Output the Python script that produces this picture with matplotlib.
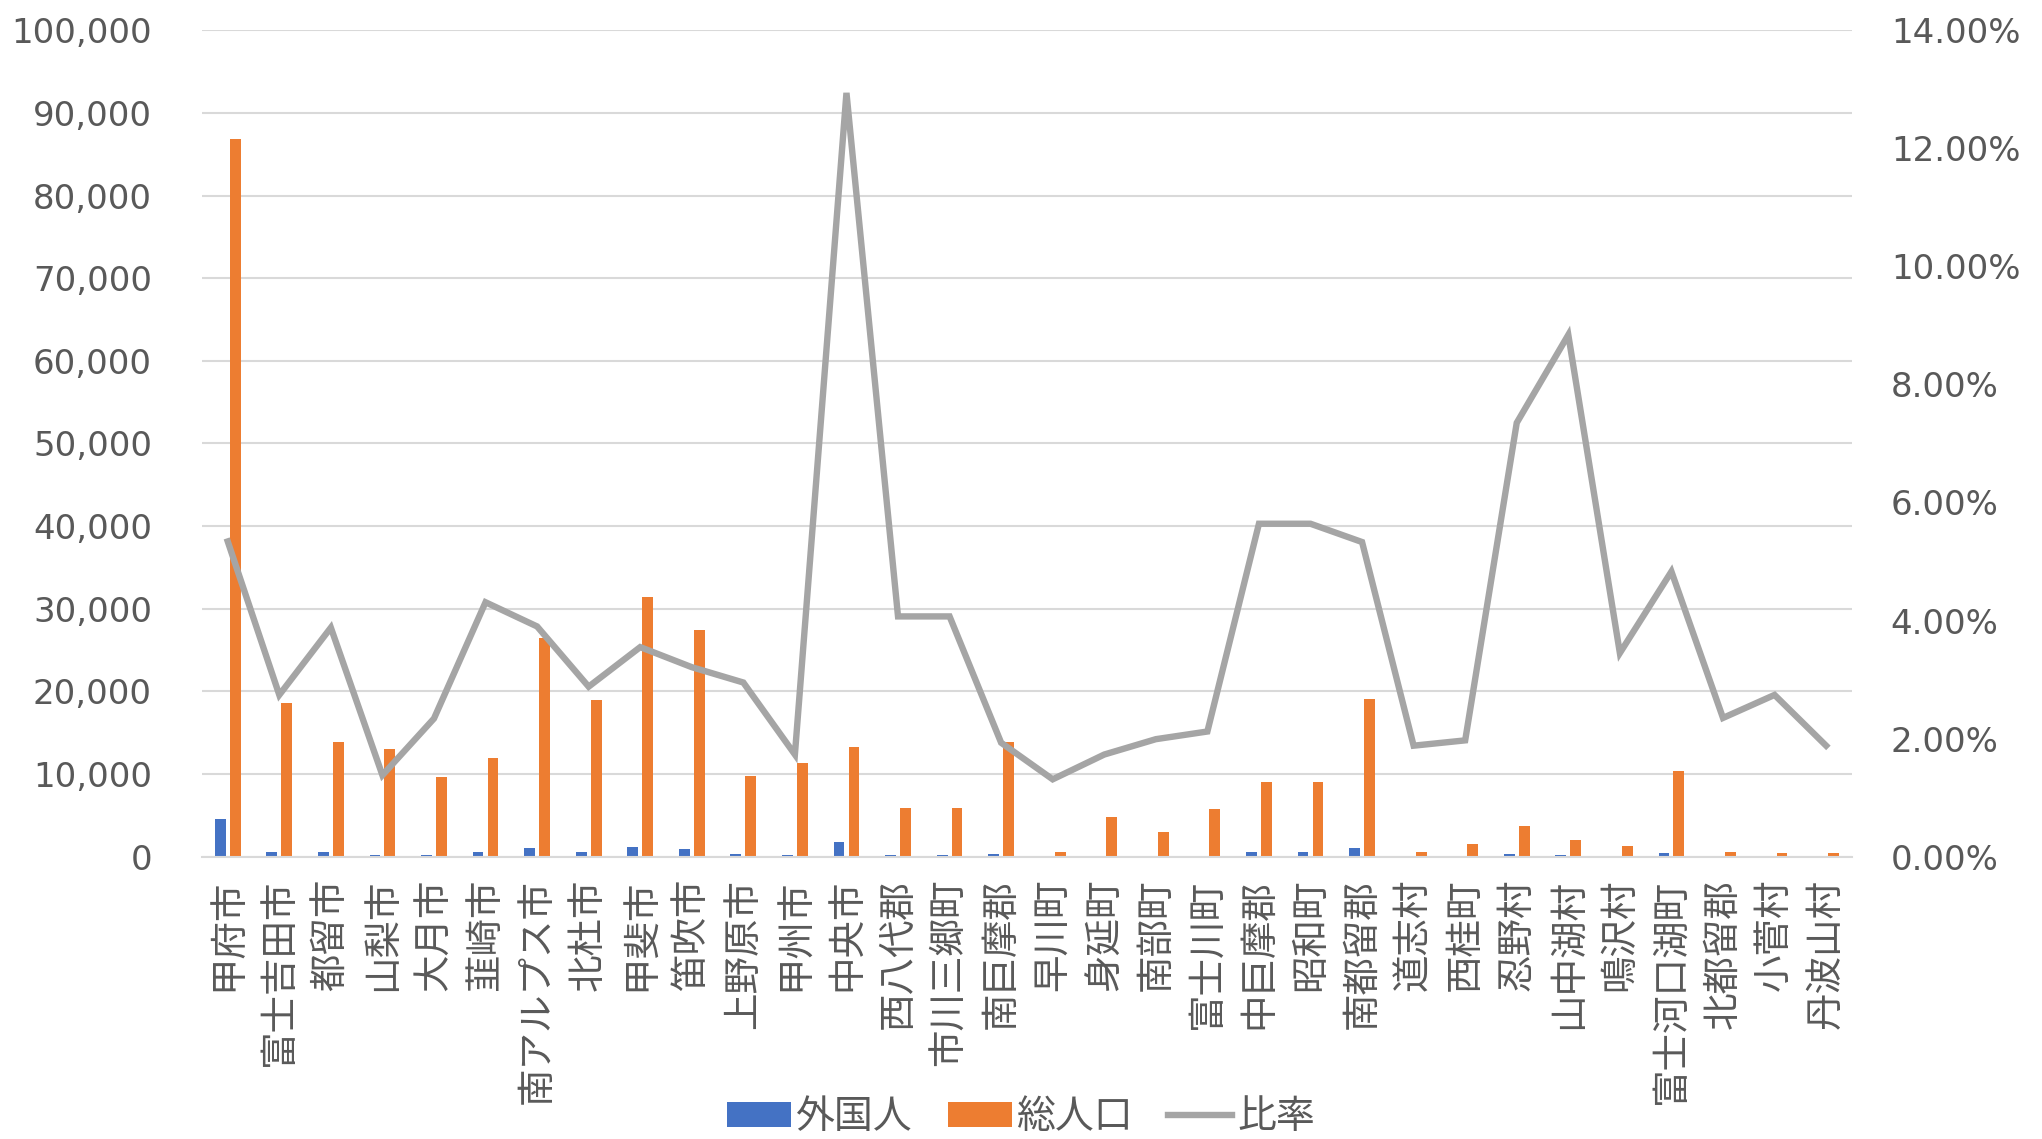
import numpy as np
import matplotlib
matplotlib.use("Agg")
import matplotlib.pyplot as plt
from matplotlib.ticker import FuncFormatter, MultipleLocator

plt.rcParams['font.family'] = ['Noto Sans CJK JP', 'DejaVu Sans']

categories = ["甲府市", "富士吉田市", "都留市", "山梨市", "大月市", "韮崎市", "南アルプス市",
              "北杜市", "甲斐市", "笛吹市", "上野原市", "甲州市", "中央市", "西八代郡",
              "市川三郷町", "南巨摩郡", "早川町", "身延町", "南部町", "富士川町", "中巨摩郡",
              "昭和町", "南都留郡", "道志村", "西桂町", "忍野村", "山中湖村", "鳴沢村",
              "富士河口湖町", "北都留郡", "小菅村", "丹波山村"]

foreigners = [4500, 550, 550, 180, 230, 550, 1050, 550, 1120, 880, 290, 200, 1750,
              240, 240, 270, 8, 85, 60, 120, 510, 510, 1020, 11, 30, 270, 175, 45,
              500, 14, 11, 8]

total_pop = [86900, 18650, 13890, 13070, 9670, 11910, 26480, 18990, 31380, 27370,
             9730, 11370, 13270, 5920, 5920, 13890, 600, 4770, 2930, 5720, 8990,
             8990, 19060, 600, 1500, 3680, 1970, 1290, 10350, 600, 400, 400]

ratio_pct = [5.34, 2.74, 3.88, 1.38, 2.34, 4.31, 3.90, 2.88, 3.55, 3.21, 2.95, 1.73,
             12.94, 4.07, 4.07, 1.93, 1.31, 1.73, 1.99, 2.12, 5.64, 5.64, 5.33, 1.88,
             1.97, 7.35, 8.84, 3.45, 4.83, 2.35, 2.74, 1.88]

series_names = ["外国人", "総人口", "比率"]
colors = ["#4472C4", "#ED7D31", "#A5A5A5"]
text_color = "#595959"
grid_color = "#D9D9D9"
num_font = ['DejaVu Sans']
fs_num = 24.5
fs_cat = 27
fs_leg = 28

fig = plt.figure(figsize=(20.42, 11.39), dpi=100)
ax = fig.add_axes([0.0989, 0.2479, 0.8080, 0.7255])
x = np.arange(len(categories))
w = 0.21
b1 = ax.bar(x - 0.145, foreigners, width=w, color=colors[0], label=series_names[0], zorder=2)
b2 = ax.bar(x + 0.145, total_pop, width=w, color=colors[1], label=series_names[1], zorder=2)

ax.set_xlim(-0.5, len(categories) - 0.5)
ax.set_ylim(0, 100000)
ax.yaxis.set_major_locator(MultipleLocator(10000))
ax.yaxis.set_major_formatter(FuncFormatter(lambda v, p: f"{int(v):,}"))
ax.grid(axis='y', color=grid_color, linewidth=1.5, zorder=0)
ax.set_axisbelow(True)
for s in ['top', 'left', 'right']:
    ax.spines[s].set_visible(False)
ax.spines['bottom'].set_color(grid_color)
ax.spines['bottom'].set_linewidth(1.5)
ax.set_xticks(x)
ax.set_xticklabels(categories, rotation=90, fontsize=fs_cat, color=text_color)
ax.tick_params(axis='x', length=0, pad=16)
ax.tick_params(axis='y', length=0, pad=36, labelcolor=text_color)
for t in ax.get_yticklabels():
    t.set_family(num_font)
    t.set_fontsize(fs_num)

ax2 = ax.twinx()
l1, = ax2.plot(x, ratio_pct, color=colors[2], linewidth=4.6, label=series_names[2],
               solid_joinstyle='miter', zorder=3)
ax2.set_ylim(0, 14)
ax2.yaxis.set_major_locator(MultipleLocator(2))
ax2.yaxis.set_major_formatter(FuncFormatter(lambda v, p: f"{v:.2f}%"))
for s in ['top', 'left', 'right', 'bottom']:
    ax2.spines[s].set_visible(False)
ax2.tick_params(axis='y', length=0, pad=28, labelcolor=text_color)
for t in ax2.get_yticklabels():
    t.set_family(num_font)
    t.set_fontsize(fs_num)

leg = fig.legend(handles=[b1, b2, l1], labels=series_names, loc='center',
                 bbox_to_anchor=(0.5, 0.019), ncol=3, frameon=False, fontsize=fs_leg,
                 handlelength=1.65, handleheight=0.62, handletextpad=0.12,
                 columnspacing=0.9, labelcolor=text_color, borderpad=0)

fig.savefig("out.png", dpi=100)
